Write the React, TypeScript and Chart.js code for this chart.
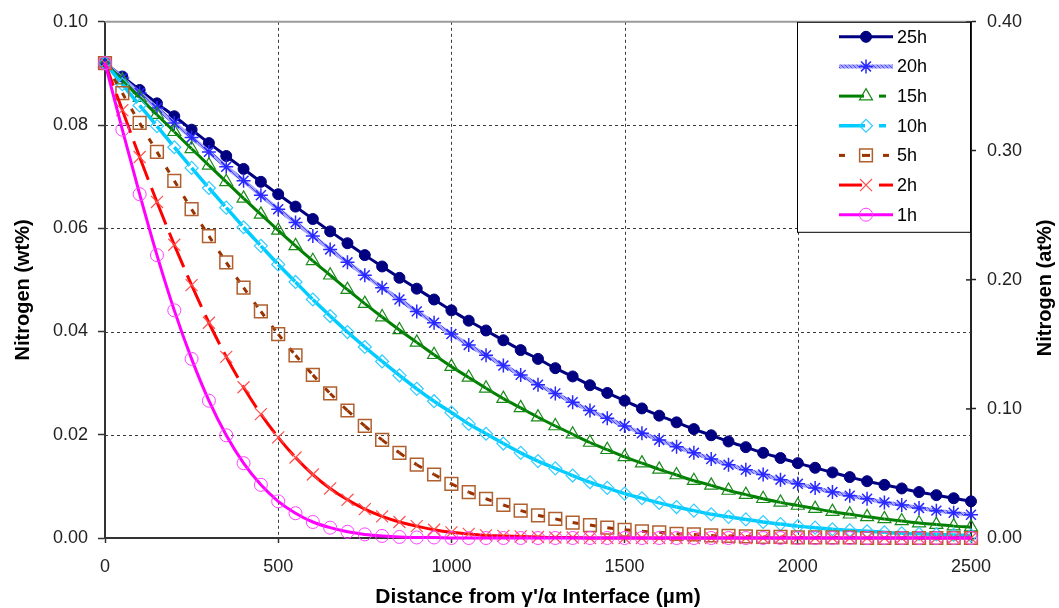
import React, { useEffect, useRef } from 'react';
import { Chart, registerables } from 'chart.js';
import { drawPoint } from 'chart.js/helpers';

Chart.register(...registerables);

// ---------- data ----------
const distances = [
  0, 50, 100, 150, 200, 250, 300, 350, 400, 450,
  500, 550, 600, 650, 700, 750, 800, 850, 900, 950,
  1000, 1050, 1100, 1150, 1200, 1250, 1300, 1350, 1400, 1450,
  1500, 1550, 1600, 1650, 1700, 1750, 1800, 1850, 1900, 1950,
  2000, 2050, 2100, 2150, 2200, 2250, 2300, 2350, 2400, 2450,
  2500,
];

const n25h = [
  0.0920, 0.0894, 0.0868, 0.0842, 0.0817, 0.0791, 0.0765, 0.0740, 0.0715, 0.0690,
  0.0666, 0.0642, 0.0618, 0.0594, 0.0571, 0.0548, 0.0526, 0.0504, 0.0483, 0.0462,
  0.0441, 0.0421, 0.0402, 0.0383, 0.0364, 0.0347, 0.0329, 0.0313, 0.0296, 0.0281,
  0.0266, 0.0251, 0.0237, 0.0224, 0.0211, 0.0199, 0.0187, 0.0176, 0.0165, 0.0155,
  0.0145, 0.0136, 0.0127, 0.0118, 0.0110, 0.0103, 0.0096, 0.0089, 0.0083, 0.0077,
  0.0071,
];

const n20h = [
  0.0920, 0.0891, 0.0862, 0.0833, 0.0804, 0.0776, 0.0748, 0.0719, 0.0692, 0.0664,
  0.0637, 0.0611, 0.0585, 0.0559, 0.0534, 0.0509, 0.0485, 0.0462, 0.0439, 0.0417,
  0.0395, 0.0374, 0.0354, 0.0334, 0.0316, 0.0297, 0.0280, 0.0263, 0.0247, 0.0232,
  0.0217, 0.0203, 0.0190, 0.0177, 0.0165, 0.0153, 0.0142, 0.0132, 0.0123, 0.0113,
  0.0105, 0.0097, 0.0089, 0.0082, 0.0076, 0.0069, 0.0064, 0.0058, 0.0053, 0.0049,
  0.0045,
];

const n15h = [
  0.0920, 0.0887, 0.0853, 0.0820, 0.0787, 0.0754, 0.0722, 0.0690, 0.0658, 0.0627,
  0.0596, 0.0566, 0.0537, 0.0509, 0.0481, 0.0454, 0.0428, 0.0403, 0.0379, 0.0355,
  0.0332, 0.0311, 0.0290, 0.0270, 0.0252, 0.0234, 0.0217, 0.0201, 0.0185, 0.0171,
  0.0157, 0.0145, 0.0133, 0.0122, 0.0111, 0.0102, 0.0092, 0.0084, 0.0076, 0.0069,
  0.0063, 0.0057, 0.0051, 0.0046, 0.0041, 0.0037, 0.0033, 0.0029, 0.0026, 0.0023,
  0.0021,
];

const n10h = [
  0.0920, 0.0879, 0.0838, 0.0798, 0.0757, 0.0717, 0.0678, 0.0640, 0.0602, 0.0566,
  0.0530, 0.0496, 0.0462, 0.0430, 0.0399, 0.0370, 0.0342, 0.0315, 0.0289, 0.0265,
  0.0243, 0.0221, 0.0202, 0.0183, 0.0165, 0.0149, 0.0135, 0.0121, 0.0108, 0.0097,
  0.0086, 0.0077, 0.0068, 0.0060, 0.0053, 0.0046, 0.0041, 0.0036, 0.0031, 0.0027,
  0.0023, 0.0020, 0.0017, 0.0015, 0.0013, 0.0011, 0.0009, 0.0008, 0.0007, 0.0006,
  0.0005,
];

const n5h = [
  0.0920, 0.0862, 0.0804, 0.0748, 0.0692, 0.0637, 0.0585, 0.0534, 0.0485, 0.0439,
  0.0395, 0.0354, 0.0316, 0.0280, 0.0247, 0.0217, 0.0190, 0.0165, 0.0142, 0.0123,
  0.0105, 0.0089, 0.0076, 0.0064, 0.0053, 0.0044, 0.0037, 0.0030, 0.0025, 0.0020,
  0.0016, 0.0013, 0.0011, 0.0008, 0.0007, 0.0005, 0.0004, 0.0003, 0.0002, 0.0002,
  0.0001, 0.0001, 0.0001, 0.0001, 0.0000, 0.0000, 0.0000, 0.0000, 0.0000, 0.0000,
  0.0000,
];

const n2h = [
  0.0920, 0.0829, 0.0738, 0.0651, 0.0568, 0.0490, 0.0417, 0.0351, 0.0292, 0.0240,
  0.0195, 0.0156, 0.0123, 0.0096, 0.0074, 0.0056, 0.0042, 0.0031, 0.0023, 0.0016,
  0.0011, 0.0008, 0.0005, 0.0004, 0.0003, 0.0002, 0.0001, 0.0001, 0.0000, 0.0000,
  0.0000, 0.0000, 0.0000, 0.0000, 0.0000, 0.0000, 0.0000, 0.0000, 0.0000, 0.0000,
  0.0000, 0.0000, 0.0000, 0.0000, 0.0000, 0.0000, 0.0000, 0.0000, 0.0000, 0.0000,
  0.0000,
];

const n1h = [
  0.0920, 0.0791, 0.0666, 0.0548, 0.0441, 0.0347, 0.0266, 0.0199, 0.0145, 0.0103,
  0.0071, 0.0048, 0.0031, 0.0020, 0.0012, 0.0007, 0.0004, 0.0002, 0.0001, 0.0001,
  0.0000, 0.0000, 0.0000, 0.0000, 0.0000, 0.0000, 0.0000, 0.0000, 0.0000, 0.0000,
  0.0000, 0.0000, 0.0000, 0.0000, 0.0000, 0.0000, 0.0000, 0.0000, 0.0000, 0.0000,
  0.0000, 0.0000, 0.0000, 0.0000, 0.0000, 0.0000, 0.0000, 0.0000, 0.0000, 0.0000,
  0.0000,
];

const seriesLabels = ['25h', '20h', '15h', '10h', '5h', '2h', '1h'];
const seriesValues = [n25h, n20h, n15h, n10h, n5h, n2h, n1h];

const xTicks = [0, 500, 1000, 1500, 2000, 2500];
const yLeftTicks = [0, 0.02, 0.04, 0.06, 0.08, 0.1];
const yRightTicks = [0, 0.1, 0.2, 0.3, 0.4];

const xTitle = "Distance from \u03b3'/\u03b1 Interface (\u00b5m)";
const yLeftTitle = 'Nitrogen (wt%)';
const yRightTitle = 'Nitrogen (at%)';

// ---------- styles ----------
const FONT = '"Liberation Sans", Arial, sans-serif';

const seriesStyles = [
  { color: '#000080', width: 3, dash: [], point: 'circle', radius: 5.5, pointBorder: '#000080', pointFill: '#000080', pointWidth: 1, legendSegs: [[0, 54]] },
  { color: 'PATTERN', width: 4, dash: [], point: 'star', radius: 7, pointBorder: '#2828ff', pointFill: 'rgba(0,0,0,0)', pointWidth: 1.5, legendSegs: [[0, 54]] },
  { color: '#008000', width: 3, dash: [24, 9], point: 'triangle', radius: 7.5, pointBorder: '#1a8a1a', pointFill: 'rgba(0,0,0,0)', pointWidth: 1.2, legendSegs: [[0, 25], [40, 47]] },
  { color: '#00CCFF', width: 3.5, dash: [24, 9], point: 'rectRot', radius: 6.5, pointBorder: '#33ccff', pointFill: 'rgba(0,0,0,0)', pointWidth: 1.2, legendSegs: [[0, 26], [40, 47]] },
  { color: '#993300', width: 3, dash: [6, 12], point: 'rect', radius: 9, pointBorder: '#b0602f', pointFill: 'rgba(0,0,0,0)', pointWidth: 1.5, legendSegs: [[0, 6], [23, 31], [44, 50]] },
  { color: '#FF0000', width: 3, dash: [24, 9], point: 'crossRot', radius: 8.5, pointBorder: '#ff5050', pointFill: 'rgba(0,0,0,0)', pointWidth: 1.2, legendSegs: [[0, 23], [40, 54]] },
  { color: '#FF00FF', width: 3, dash: [], point: 'circle', radius: 6.5, pointBorder: '#ff40ff', pointFill: 'rgba(0,0,0,0)', pointWidth: 1, legendSegs: [[0, 54]] },
];

export default function App() {
  const ref = useRef<HTMLCanvasElement>(null);

  useEffect(() => {
    document.body.style.margin = '0';
    const canvas = ref.current as HTMLCanvasElement;

    // textured line for 20h
    const pc = document.createElement('canvas');
    pc.width = 4;
    pc.height = 4;
    const pctx = pc.getContext('2d') as CanvasRenderingContext2D;
    pctx.fillStyle = '#a4a4ff';
    pctx.fillRect(0, 0, 4, 4);
    pctx.fillStyle = '#4a4aff';
    for (let i = 0; i < 4; i++) pctx.fillRect(i, i, 1, 1);
    const pattern = (canvas.getContext('2d') as CanvasRenderingContext2D).createPattern(pc, 'repeat') as CanvasPattern;

    const colorOf = (st: any) => (st.color === 'PATTERN' ? pattern : st.color);

    const datasets = seriesLabels.map((label, i) => {
      const st: any = seriesStyles[i];
      const vals = seriesValues[i];
      const col = colorOf(st);
      const ds: any = {
        label,
        data: distances.map((d, k) => ({ x: d, y: vals[k] })),
        borderColor: col,
        borderWidth: st.width,
        borderDash: st.dash,
        backgroundColor: 'rgba(0,0,0,0)',
        fill: false,
        pointStyle: st.point,
        pointRadius: st.radius,
        pointHoverRadius: st.radius,
        pointBackgroundColor: st.pointFill,
        pointBorderColor: st.pointBorder,
        pointBorderWidth: st.pointWidth,
        cubicInterpolationMode: 'monotone',
        clip: false,
        order: seriesLabels.length - 1 - i,
      };
      if (st.dash.length) {
        // restart the dash pattern on every segment (Excel style)
        ds.segment = {
          borderDash: () => st.dash,
          borderDashOffset: (c: any) => (c.p0DataIndex % 2) * 0.001,
          borderColor: () => col,
          borderWidth: () => st.width,
        };
      }
      return ds;
    });

    const decor = {
      id: 'decor',
      beforeDatasetsDraw(chart: any) {
        const { ctx, chartArea: a, scales } = chart;
        ctx.save();
        ctx.lineWidth = 1;
        ctx.strokeStyle = '#3a3a3a';
        ctx.setLineDash([3, 3]);
        xTicks.forEach((v, idx) => {
          if (idx === 0 || idx === xTicks.length - 1) return;
          const px = Math.round(scales.x.getPixelForValue(v)) + 0.5;
          ctx.beginPath();
          ctx.moveTo(px, a.top);
          ctx.lineTo(px, a.bottom);
          ctx.stroke();
        });
        yLeftTicks.forEach((v, idx) => {
          if (idx === 0 || idx === yLeftTicks.length - 1) return;
          const py = Math.round(scales.y.getPixelForValue(v)) + 0.5;
          ctx.beginPath();
          ctx.moveTo(a.left, py);
          ctx.lineTo(a.right, py);
          ctx.stroke();
        });
        ctx.setLineDash([]);
        ctx.strokeStyle = '#9a9a9a';
        ctx.lineWidth = 2;
        ctx.beginPath();
        ctx.moveTo(a.left, a.top);
        ctx.lineTo(a.right, a.top);
        ctx.stroke();
        ctx.strokeStyle = '#222';
        ctx.lineWidth = 1.5;
        yRightTicks.forEach((v) => {
          const py = scales.y2.getPixelForValue(v);
          ctx.beginPath();
          ctx.moveTo(a.right - 5, py);
          ctx.lineTo(a.right, py);
          ctx.stroke();
        });
        ctx.restore();
      },
      afterDraw(chart: any) {
        const { ctx, chartArea: a } = chart;
        ctx.save();
        // legend
        const bw = 174;
        const bh = 210;
        const bx = a.right - bw;
        const by = a.top;
        ctx.fillStyle = '#ffffff';
        ctx.fillRect(bx, by, bw, bh);
        ctx.strokeStyle = '#000';
        ctx.lineWidth = 1;
        ctx.strokeRect(bx + 0.5, by + 0.5, bw - 1, bh);
        seriesLabels.forEach((lab, i) => {
          const st: any = seriesStyles[i];
          const y = by + 15 + i * 29.65;
          const lx = bx + 42;
          ctx.setLineDash([]);
          ctx.lineCap = 'butt';
          ctx.strokeStyle = colorOf(st);
          ctx.lineWidth = st.width;
          st.legendSegs.forEach((sg: number[]) => {
            ctx.beginPath();
            ctx.moveTo(lx + sg[0], y);
            ctx.lineTo(lx + sg[1], y);
            ctx.stroke();
          });
          ctx.fillStyle = st.pointFill;
          ctx.strokeStyle = st.pointBorder;
          ctx.lineWidth = st.pointWidth;
          drawPoint(ctx, { pointStyle: st.point, radius: st.radius, rotation: 0, borderWidth: st.pointWidth } as any, bx + 69, y);
          ctx.fillStyle = '#000';
          ctx.font = '18px ' + FONT;
          ctx.textAlign = 'left';
          ctx.textBaseline = 'middle';
          ctx.fillText(lab, bx + 100, y + 1);
        });
        // axis titles
        ctx.fillStyle = '#000';
        ctx.font = 'bold 20px ' + FONT;
        ctx.textAlign = 'center';
        ctx.textBaseline = 'middle';
        const midY = (a.top + a.bottom) / 2;
        ctx.save();
        ctx.translate(23, midY + 10);
        ctx.rotate(-Math.PI / 2);
        ctx.fillText(yLeftTitle, 0, 0);
        ctx.restore();
        ctx.save();
        ctx.translate(1045, midY + 8);
        ctx.rotate(-Math.PI / 2);
        ctx.fillText(yRightTitle, 0, 0);
        ctx.restore();
        ctx.font = 'bold 21px ' + FONT;
        ctx.fillText(xTitle, (a.left + a.right) / 2, 597);
        ctx.restore();
      },
    };

    const tickFont = { family: FONT, size: 18 };

    const chart = new Chart(canvas, {
      type: 'line',
      data: { datasets },
      options: {
        animation: false,
        responsive: false,
        devicePixelRatio: 1,
        layout: { padding: { top: 20, left: 0, right: 0, bottom: 0 } },
        plugins: { legend: { display: false }, tooltip: { enabled: false } },
        events: [],
        scales: {
          x: {
            type: 'linear',
            min: 0,
            max: 2500,
            afterBuildTicks: (s: any) => { s.ticks = xTicks.map((v) => ({ value: v })); },
            ticks: { font: tickFont, color: '#222', padding: 13, maxRotation: 0, autoSkip: false, callback: (v: any) => String(v) },
            grid: { drawOnChartArea: false, drawTicks: true, tickLength: 5, tickColor: '#333', tickWidth: 1.5 },
            border: { display: true, color: '#333', width: 2 },
            afterFit: (s: any) => { s.height = 70; },
          },
          y: {
            type: 'linear',
            position: 'left',
            min: 0,
            max: 0.1,
            afterBuildTicks: (s: any) => { s.ticks = yLeftTicks.map((v) => ({ value: v })); },
            ticks: { font: tickFont, color: '#222', padding: 10, autoSkip: false, callback: (v: any) => Number(v).toFixed(2) },
            grid: { drawOnChartArea: false, drawTicks: true, tickLength: 7, tickColor: '#333', tickWidth: 1.5 },
            border: { display: true, color: '#333', width: 2 },
            afterFit: (s: any) => { s.width = 105; },
          },
          y2: {
            type: 'linear',
            position: 'right',
            min: 0,
            max: 0.4,
            afterBuildTicks: (s: any) => { s.ticks = yRightTicks.map((v) => ({ value: v })); },
            ticks: { font: tickFont, color: '#222', padding: 11, autoSkip: false, callback: (v: any) => Number(v).toFixed(2) },
            grid: { drawOnChartArea: false, drawTicks: true, tickLength: 5, tickColor: '#222', tickWidth: 1.5 },
            border: { display: true, color: '#222', width: 2 },
            afterFit: (s: any) => { s.width = 88; },
          },
        },
      } as any,
      plugins: [decor],
    });

    return () => chart.destroy();
  }, []);

  return (
    <div style={{ width: 1059, height: 608 }}>
      <canvas ref={ref} width={1059} height={608} />
    </div>
  );
}
